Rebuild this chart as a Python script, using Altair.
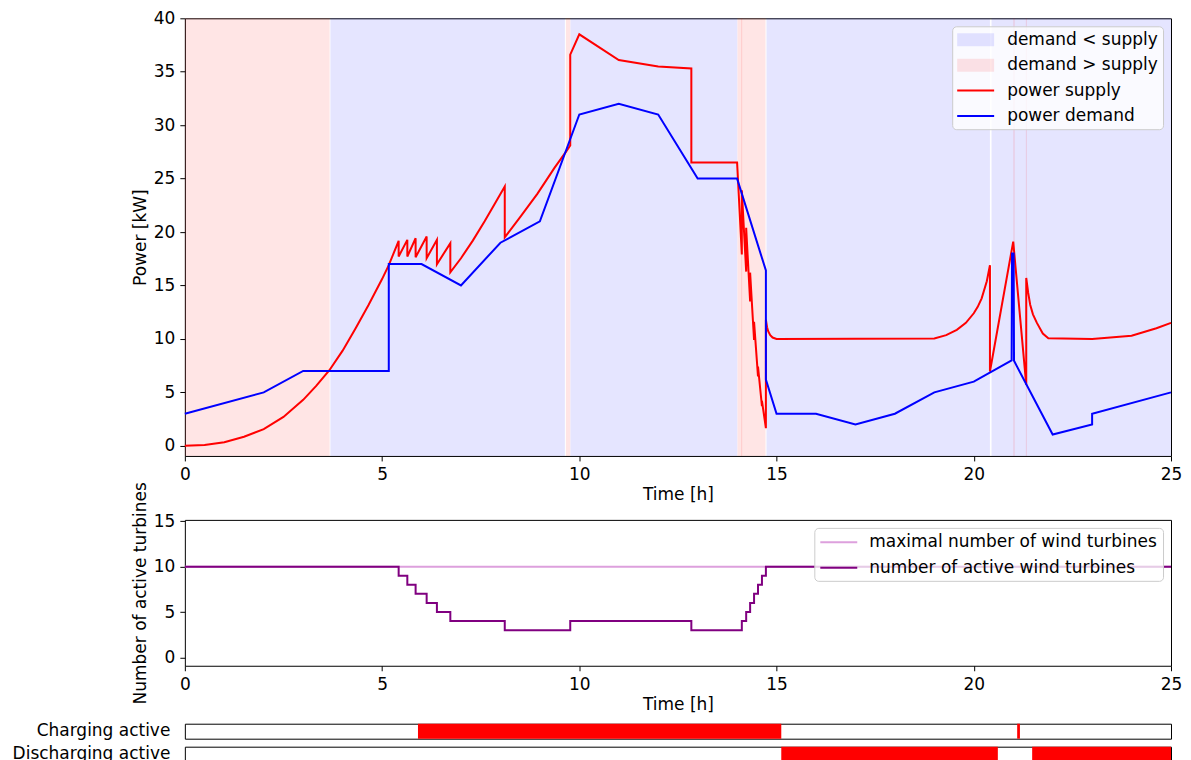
import altair as alt
import pandas as pd

FONT = "DejaVu Sans"

# ---------------- data ----------------
supply_t = [0, 0.5, 1, 1.5, 2, 2.5, 3, 3.33, 3.66, 4.0, 4.33, 4.66, 5.0, 5.17,
            5.42, 5.42, 5.64, 5.64, 5.85, 5.85, 6.13, 6.13, 6.39, 6.39, 6.73, 6.73,
            7.0, 7.3, 7.6, 7.85, 8.11, 8.11, 8.5, 8.94, 9.37, 9.66, 9.77, 9.77,
            10, 11, 12, 12.84, 12.84, 14.0,
            14.12, 14.12, 14.23, 14.23, 14.33, 14.33, 14.43, 14.43, 14.53, 14.53, 14.63, 14.63, 14.73, 14.73,
            14.76, 14.79, 14.84, 14.9, 15.0, 19.0, 19.3, 19.57, 19.8, 20.0, 20.1, 20.2, 20.33, 20.41, 20.41,
            21.0, 21.33, 21.33, 21.38, 21.43, 21.5, 21.6, 21.75, 21.89, 23.0, 24.0, 24.63, 25]
supply_kw = [0, 0.07, 0.34, 0.85, 1.55, 2.7, 4.3, 5.6, 7.05, 8.9, 11.0, 13.2, 15.6, 16.9,
             19.18, 17.71, 19.27, 17.71, 19.42, 17.64, 19.58, 17.55, 19.27, 16.99, 18.95, 16.24,
             17.55, 19.2, 21.0, 22.6, 24.26, 19.5, 21.4, 23.6, 26.0, 27.5, 28.1, 36.6,
             38.5, 36.1, 35.5, 35.3, 26.5, 26.5,
             17.9, 23.9, 16.3, 20.4, 13.5, 16.2, 9.9, 11.6, 6.5, 7.4, 3.7, 4.2, 1.65, 11.8,
             11.1, 10.7, 10.35, 10.13, 10.0, 10.05, 10.35, 10.85, 11.5, 12.4, 13.0, 13.8, 15.4, 16.9, 6.95,
             19.1, 5.7, 15.7, 14.3, 13.2, 12.3, 11.5, 10.5, 10.07, 10.0, 10.3, 11.0, 11.5]

demand_t = [0, 2, 3, 5.17, 5.17, 6, 7, 8, 9, 10, 11, 12, 13, 14, 14.73, 14.73, 15, 16,
            17, 18, 19, 20, 20.96, 20.97, 21.01, 21.02, 22, 23, 23, 25]
demand_kw = [3, 5, 7, 7, 17, 17, 15, 19, 21, 31, 32, 31, 25, 25, 16.4, 6.2, 3, 3,
             2, 3, 5, 6, 8, 18, 18, 7.95, 1.05, 2, 3, 5]

bg_start = [0, 3.69, 9.66, 9.775, 14.01, 14.10, 14.745, 20.45, 21.0, 21.32]
bg_end = [3.67, 9.635, 9.77, 14.005, 14.13, 14.72, 20.41, 25, 21.04, 21.35]
bg_kind = ["demand > supply", "demand < supply", "demand > supply", "demand < supply",
           "demand > supply", "demand > supply", "demand < supply", "demand < supply",
           "demand > supply", "demand > supply"]

turb_t = [0, 5.42, 5.64, 5.85, 6.13, 6.39, 6.73, 8.11, 9.77, 12.84,
          14.12, 14.23, 14.33, 14.43, 14.53, 14.63, 14.73, 25]
turb_n = [10, 9, 8, 7, 6, 5, 4, 3, 4, 3, 4, 5, 6, 7, 8, 9, 10, 10]
max_t = [0, 25]
max_n = [10, 10]

charge_start = [5.91, 21.10]
charge_end = [15.12, 21.17]
discharge_start = [15.12, 21.48]
discharge_end = [20.61, 25]

legend_entries = ["demand < supply", "demand > supply", "power supply", "power demand"]
turb_entries = ["maximal number of wind turbines", "number of active wind turbines"]
x_ticks = [0, 5, 10, 15, 20, 25]
p_ticks = [0, 5, 10, 15, 20, 25, 30, 35, 40]
n_ticks = [0, 5, 10, 15]

# ---------------- frames ----------------
sup_df = pd.DataFrame({"t": supply_t, "kw": supply_kw, "series": "power supply",
                       "idx": list(range(len(supply_t)))})
dem_df = pd.DataFrame({"t": demand_t, "kw": demand_kw, "series": "power demand",
                       "idx": list(range(len(demand_t)))})
bg_df = pd.DataFrame({"start": bg_start, "end": bg_end, "kind": bg_kind})
leg_df = pd.DataFrame({"entry": legend_entries})
turb_df = pd.concat([
    pd.DataFrame({"t": max_t, "n": max_n, "series": turb_entries[0]}),
    pd.DataFrame({"t": turb_t, "n": turb_n, "series": turb_entries[1]}),
], ignore_index=True)
turb_df["idx"] = range(len(turb_df))
charge_df = pd.DataFrame({"start": charge_start, "end": charge_end, "label": "Charging active"})
discharge_df = pd.DataFrame({"start": discharge_start, "end": discharge_end, "label": "Discharging active"})

W = 987
RECT = "M-1,-0.76H3.35V0.76H-1Z"
LINE = "M-1,-0.12H3.35V0.12H-1Z"

xs = alt.Scale(domain=[0, 25], nice=False, zero=False)
cscale = alt.Scale(domain=legend_entries,
                   range=["rgba(0,0,255,0.1)", "rgba(255,0,0,0.1)", "#ff0000", "#0000ff"])


def xaxis():
    return alt.Axis(values=x_ticks, title="Time [h]", tickSize=5, labelPadding=6,
                    titlePadding=4, format="d", labelFlush=False)


leg_common = dict(title=None, orient="top-right", offset=8, padding=5, rowPadding=7.4,
                  symbolSize=289, labelOffset=33, labelFontSize=17, labelFont=FONT,
                  labelColor="black", labelLimit=400, fillColor="rgba(255,255,255,0.8)",
                  strokeColor="#cccccc", cornerRadius=4, symbolOpacity=1,
                  symbolFillColor="#ffffff", symbolStrokeWidth=0)

ys_top = alt.Scale(domain=[-0.95, 40], nice=False, zero=False)
yaxis_top = alt.Axis(values=p_ticks, title="Power [kW]", tickSize=5, labelPadding=5,
                     titlePadding=4, labelFlush=False)

# legend-only layer (no marks drawn) comes first so its legend settings win
leg = alt.Chart(leg_df).transform_filter("false").mark_point(filled=True, opacity=1).encode(
    color=alt.Color("entry:N", scale=cscale, legend=alt.Legend(**leg_common)),
    shape=alt.Shape("entry:N", scale=alt.Scale(domain=legend_entries, range=[RECT, RECT, LINE, LINE]),
                    legend=alt.Legend(**leg_common)),
)
bg = alt.Chart(bg_df).mark_rect(opacity=1).encode(
    x=alt.X("start:Q", scale=xs, axis=xaxis()),
    x2="end:Q",
    color=alt.Color("kind:N", scale=cscale, legend=None),
)
sup = alt.Chart(sup_df).mark_line(strokeWidth=2).encode(
    x=alt.X("t:Q", scale=xs, axis=xaxis()),
    y=alt.Y("kw:Q", scale=ys_top, axis=yaxis_top),
    color=alt.Color("series:N", scale=cscale, legend=None),
    order="idx:Q",
)
dem = alt.Chart(dem_df).mark_line(strokeWidth=2).encode(
    x=alt.X("t:Q", scale=xs, axis=xaxis()),
    y=alt.Y("kw:Q", scale=ys_top, axis=yaxis_top),
    color=alt.Color("series:N", scale=cscale, legend=None),
    order="idx:Q",
)
top = alt.layer(leg, bg, sup, dem).properties(width=W, height=438)


def spacer(h):
    return alt.Chart(pd.DataFrame({"v": [0]})).mark_point(opacity=0).encode(
        x=alt.value(0), y=alt.value(0)
    ).properties(width=W, height=h, view=alt.ViewBackground(stroke="transparent"))


mid = alt.Chart(turb_df).mark_line(strokeWidth=2, interpolate="step-after").encode(
    x=alt.X("t:Q", scale=xs, axis=xaxis()),
    y=alt.Y("n:Q", scale=alt.Scale(domain=[-0.92, 15.15], nice=False, zero=False),
            axis=alt.Axis(values=n_ticks, title="Number of active turbines", tickSize=5,
                          labelPadding=5, titlePadding=4, labelFlush=False)),
    color=alt.Color("series:N", scale=alt.Scale(domain=turb_entries, range=["#dda0dd", "#800080"]),
                    legend=alt.Legend(title=None, orient="top-right", offset=8, padding=5,
                                      rowPadding=7.4, symbolSize=289, symbolType="M-1,0H3.35",
                                      symbolStrokeWidth=2, labelOffset=31, labelFontSize=17,
                                      labelFont=FONT, labelColor="black", labelLimit=400,
                                      fillColor="rgba(255,255,255,0.8)", strokeColor="#cccccc",
                                      cornerRadius=4, symbolOpacity=1)),
    detail="series:N",
    order="idx:Q",
).properties(width=W, height=146)


def status_chart(df):
    return alt.Chart(df).mark_rect(color="#ff0000", opacity=1).encode(
        x=alt.X("start:Q", scale=xs, axis=None),
        x2="end:Q",
        y=alt.Y("label:N", scale=alt.Scale(paddingInner=0, paddingOuter=0),
                axis=alt.Axis(title=None, ticks=False, domain=False, labelPadding=15,
                              labelFontSize=17)),
    ).properties(width=W, height=15)


chart = alt.vconcat(
    top, spacer(48), mid, spacer(42), status_chart(charge_df), status_chart(discharge_df),
    spacing=8, bounds="flush",
).resolve_scale(
    color="independent", shape="independent"
).resolve_legend(
    color="independent", shape="independent"
).properties(
    padding={"left": 3, "top": 0, "right": 0, "bottom": 0}
).configure(
    font=FONT
).configure_view(
    stroke="black", strokeWidth=1
).configure_axis(
    labelFont=FONT, titleFont=FONT, labelFontSize=17, titleFontSize=17,
    labelColor="black", titleColor="black", tickColor="black", tickWidth=1,
    titleFontWeight="normal", grid=False, domain=False
)

chart.save("out.html", embed_options={"renderer": "svg", "actions": False})
